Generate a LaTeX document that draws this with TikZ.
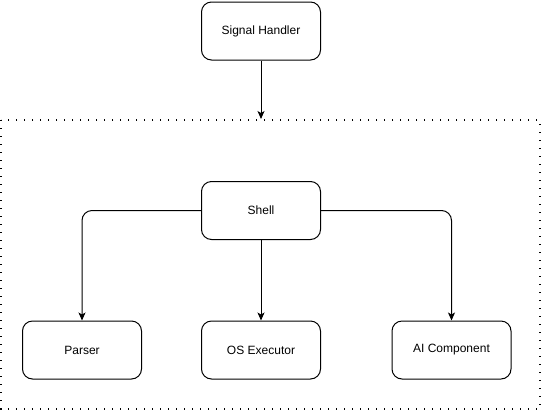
\documentclass[tikz,border=0pt]{standalone}
\usepackage{fontspec}
\setmainfont{Liberation Sans}
\usetikzlibrary{arrows.meta}
\begin{document}
\begin{tikzpicture}[x=1pt,y=-1pt,line width=1pt,
  block/.style={draw,rounded corners=10pt,minimum width=119pt,minimum height=58pt,
    inner sep=0pt,font=\fontsize{12}{14}\selectfont},
  link/.style={-{Stealth[length=8pt,width=7pt,inset=2pt]},rounded corners=10pt}]
\useasboundingbox (0,0) rectangle (543,413);

% outer group
\draw[line width=1.3pt,dash pattern=on 1.3pt off 6.7pt] (1,120) rectangle (540,409);
\coordinate (grouptop) at (261,119);

\node[block] (handler) at (261,31) {Signal Handler};
\node[block] (shell) at (261,210.5) {Shell};
\node[block] (parser) at (82,350) {Parser};
\node[block] (executor) at (261,350) {OS Executor};
\node[block] (ai) at (451.5,350) {AI Component};

\draw[link] (handler) -- (grouptop);
\draw[link] (shell.west) -| (parser.north);
\draw[link] (shell) -- (executor);
\draw[link] (shell.east) -| (ai.north);
\end{tikzpicture}
\end{document}
